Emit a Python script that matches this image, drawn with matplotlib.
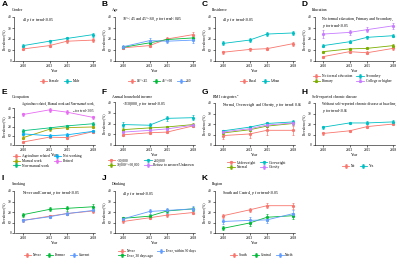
import matplotlib.pyplot as plt

years = [2010, 2013, 2015, 2018]

RED = "#F8766D"
TEAL = "#00BFC4"
GREEN3 = "#00BA38"
BLUE3 = "#619CFF"
OLIVE4 = "#7CAE00"
VIOLET4 = "#C77CFF"

# A gender
gender_labels = ["Female", "Male"]
gender_vals = [[11, 14, 18, 19], [14, 18, 20.5, 24]]
gender_err = [[1.3, 1.3, 1.3, 1.5], [1.3, 1.5, 1.5, 1.8]]

# B age
age_labels = ["18~<45", "45~<60", "\u226560"]
age_vals = [[12, 14, 20, 24], [12.5, 16.5, 19.5, 21], [13, 18.5, 18, 19]]
age_err = [[1.2, 1.3, 1.5, 2.0], [1.2, 1.5, 1.5, 1.8], [1.8, 2.5, 2.0, 2.2]]

# C residence
res_labels = ["Rural", "Urban"]
res_vals = [[8, 10.5, 11.2, 15.8], [16, 19, 24.5, 25.5]]
res_err = [[1.5, 1.5, 1.5, 1.8], [1.8, 2.0, 2.2, 2.2]]

# D education
edu_labels = ["No formal education", "Primary", "Secondary", "College or higher"]
edu_vals = [[4, 8.5, 7.5, 11.5], [8.5, 11, 11.5, 14], [14, 17.5, 21.5, 23], [24.5, 26, 28.5, 32]]
edu_err = [[1.0, 1.2, 1.2, 1.3], [1.0, 1.0, 1.0, 1.2], [1.3, 1.4, 1.5, 1.6], [3.5, 2.5, 2.5, 2.5]]

# E occupation
occ_labels = ["Agriculture related", "Manual work", "Non-manual work", "Not working", "Retired"]
occ_vals = [[3.3, 8.5, 8, 14.5], [8, 17, 18.8, 19.5], [15.5, 18.5, 20.7, 23],
            [12, 10, 11, 14.8], [33, 38, 35.5, 29.8]]
occ_err = [[1.0, 1.2, 1.2, 1.5], [1.5, 1.5, 1.5, 1.5], [1.3, 1.3, 1.3, 1.5],
           [1.5, 1.5, 1.5, 1.5], [2.0, 2.0, 2.0, 2.0]]

# F income
inc_labels = ["<30,000", "30,000~<60,000", "\u226560,000", "Refuse to answer/Unknown"]
inc_vals = [[9.5, 11.4, 12, 17.8], [14.3, 15.9, 16.8, 19], [19, 18.4, 24.8, 25.4], [12, 13.6, 15, 18.4]]
inc_err = [[1.2, 1.2, 1.3, 1.5], [1.3, 1.3, 1.3, 1.5], [2.0, 1.8, 2.2, 2.2], [1.5, 1.5, 1.5, 1.5]]

# G BMI
bmi_labels = ["Underweight", "Normal", "Overweight", "Obesity"]
bmi_vals = [[9, 10.5, 14, 14], [11.5, 14.5, 18, 20.5], [13.5, 17, 20.5, 22], [12.5, 15.5, 19, 21]]
bmi_err = [[3.0, 3.5, 4.0, 4.0], [1.0, 1.0, 1.2, 1.3], [1.2, 1.3, 1.4, 1.4], [1.5, 1.5, 1.5, 1.5]]

# H chronic disease
chr_labels = ["No", "Yes"]
chr_vals = [[11, 13.5, 17.5, 20], [17, 21, 21, 22]]
chr_err = [[1.0, 1.0, 1.2, 1.3], [1.3, 1.3, 1.4, 1.5]]

# I smoking
smk_labels = ["Never", "Former", "Current"]
smk_vals = [[12, 16, 18.5, 21], [17.5, 22.5, 23.5, 25], [12, 15.5, 18.5, 21.5]]
smk_err = [[1.2, 1.3, 1.4, 1.5], [1.8, 2.0, 2.2, 2.5], [1.5, 1.6, 1.6, 1.8]]

# J drinking
drk_labels = ["Never", "Ever, 30 days ago", "Ever, within 30 days"]
drk_vals = [[11, 14.5, 17, 19.5], [14, 16, 21, 23], [13.5, 20.5, 21.5, 23]]
drk_err = [[1.0, 1.2, 1.3, 1.5], [1.5, 1.8, 2.0, 2.0], [2.0, 2.5, 2.5, 2.5]]

# K region
reg_labels = ["South", "Central", "North"]
reg_vals = [[16.5, 22, 26, 26], [4.5, 9.5, 15, 16.5], [11, 12, 12.5, 18.5]]
reg_err = [[1.8, 2.0, 2.5, 3.0], [2.0, 2.5, 3.5, 3.0], [2.5, 3.0, 2.5, 3.5]]

panels = [
    ("A", "Gender", "all $p$ for trend<0.05", gender_labels, gender_vals, gender_err, [RED, TEAL], 3),
    ("B", "Age", "18~<45 and 45~<60, $p$ for trend<0.05", age_labels, age_vals, age_err,
     [RED, GREEN3, BLUE3], 3),
    ("C", "Residence", "all $p$ for trend<0.05", res_labels, res_vals, res_err, [RED, TEAL], 3),
    ("D", "Education", "No formal education, Primary and Secondary,\n$p$ for trend<0.05",
     edu_labels, edu_vals, edu_err, [RED, OLIVE4, TEAL, VIOLET4], 2),
    ("E", "Occupation", "Agriculture related, Manual work and Non-manual work,\n$p$ for trend<0.05",
     occ_labels, occ_vals, occ_err, ["#F8766D", "#A3A500", "#00BF7D", "#00B0F6", "#E76BF3"], 2),
    ("F", "Annual household income", "<\u00a530,000, $p$ for trend<0.05", inc_labels, inc_vals, inc_err,
     [RED, OLIVE4, TEAL, VIOLET4], 2),
    ("G", "BMI categories$^a$", "Normal, Overweight and Obesity, $p$ for trend<0.05",
     bmi_labels, bmi_vals, bmi_err, [RED, OLIVE4, TEAL, VIOLET4], 2),
    ("H", "Self-reported chronic disease",
     "Without self-reported chronic disease at baseline,\n$p$ for trend<0.05",
     chr_labels, chr_vals, chr_err, [RED, TEAL], 2),
    ("I", "Smoking", "Never and Current, $p$ for trend<0.05", smk_labels, smk_vals, smk_err,
     [RED, GREEN3, BLUE3], 3),
    ("J", "Drinking", "all $p$ for trend<0.05", drk_labels, drk_vals, drk_err,
     [RED, GREEN3, BLUE3], 2),
    ("K", "Region", "South and Central, $p$ for trend<0.05", reg_labels, reg_vals, reg_err,
     [RED, GREEN3, BLUE3], 3),
]

# pixel layout: cell x, cell y, axes top, axes bottom, legend centre x (in cell), legend centre y,
# note top (absolute px), note font size
layout = [
    (0, 0, 17, 61, 60, 81, 15.5, 2.8), (100, 0, 17, 61, 60, 81, 15.5, 2.8),
    (200, 0, 17, 61, 60, 81, 15.5, 2.8), (300, 0, 17, 61, 52, 78.5, 17, 2.8),
    (0, 87, 108, 145, 47, 161, 102, 2.25), (100, 87, 102, 145, 51, 163, 100.5, 2.8),
    (200, 87, 103, 145, 57, 165, 101.5, 2.8), (300, 87, 103, 145, 58, 166, 102, 2.7),
    (0, 174, 191, 233, 57, 255, 189.5, 2.8), (100, 174, 191, 233, 57, 253.5, 189.5, 2.8),
    (200, 174, 191, 233, 62, 255, 189.5, 2.8),
]

W, H = 400, 261
plt.rcParams["font.family"] = ["Liberation Serif", "DejaVu Serif"]
plt.rcParams["mathtext.fontset"] = "stix"
fig = plt.figure(figsize=(W / 100, H / 100), dpi=100)

for (letter, sub, note, labels, vals, errs, colors, ncol), (cx, cy, top, bot, lx, ly, ny, nfs) in zip(panels, layout):
    ax = fig.add_axes([(cx + 14.5) / W, 1 - bot / H, 80.5 / W, (bot - top) / H])
    for lab, v, e, c in zip(labels, vals, errs, colors):
        ax.errorbar(years, v, yerr=e, color=c, lw=0.6, elinewidth=0.5, capsize=1.0, capthick=0.5,
                    marker="o", ms=1.3, label=lab)
    ax.set_xlim(2009, 2018.2)
    ax.set_ylim(0, 40)
    ax.set_xticks(years)
    ax.set_yticks([0, 10, 20, 30, 40])
    ax.tick_params(labelsize=2.6, length=1.2, width=0.4, pad=1)
    for s in ["top", "right"]:
        ax.spines[s].set_visible(False)
    for s in ["left", "bottom"]:
        ax.spines[s].set_linewidth(0.4)
    ax.set_xlabel("Year", fontsize=2.8, labelpad=0.8)
    ax.set_ylabel("Prevalence(%)", fontsize=2.6, labelpad=1.5)
    fig.text((cx + 22) / W, 1 - ny / H, note, fontsize=nfs, va="top", ha="left", linespacing=1.2,
             multialignment="right" if letter == "E" else "left")
    fig.text((cx + 2) / W, 1 - (cy + 5) / H, letter, fontsize=6, fontweight="bold",
             family="Liberation Sans", va="center", ha="left")
    fig.text((cx + 12) / W, 1 - (cy + 10) / H, sub, fontsize=2.8, va="center", ha="left")
    fig.legend(handles=ax.get_legend_handles_labels()[0], labels=labels, ncol=ncol,
               loc="center", bbox_to_anchor=((cx + lx) / W, 1 - ly / H), frameon=False,
               fontsize=2.6, handlelength=2.0, columnspacing=1.2, labelspacing=0.15,
               handletextpad=0.5, borderpad=0)

fig.savefig("out.png", dpi=100)
